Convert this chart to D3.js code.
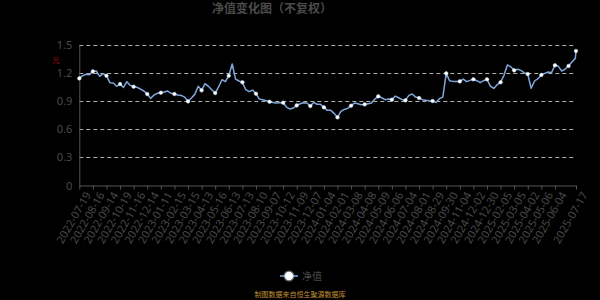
<!DOCTYPE html>
<html>
<head>
<meta charset="utf-8">
<script src="https://cdn.jsdelivr.net/npm/d3@7/dist/d3.min.js"></script>
<style>
  body { margin: 0; background: #000; }
  svg { display: block; font-family: "Noto Sans CJK SC", "Noto Sans", sans-serif; }
</style>
</head>
<body>
<svg id="chart" width="600" height="300"></svg>
<script>
// net value, one reading every 5 trading days (index 0,5,...,730), last item is the final day
const SAMPLE_STEP = 5
const LAST_INDEX = 731
const NAV = [
  1.146, 1.175, 1.189, 1.186, 1.221, 1.225, 1.168, 1.196, 1.175, 1.100,
  1.096, 1.061, 1.086, 1.050, 1.111, 1.071, 1.057, 1.050, 1.032, 1.011,
  0.979, 0.932, 0.968, 0.986, 0.993, 1.000, 1.011, 0.986, 0.979, 0.968,
  0.964, 0.946, 0.900, 0.936, 0.975, 1.061, 1.018, 1.089, 1.061, 1.025,
  0.989, 1.054, 1.132, 1.111, 1.175, 1.300, 1.139, 1.118, 1.104, 1.025,
  1.004, 1.021, 0.982, 0.925, 0.918, 0.907, 0.896, 0.889, 0.882, 0.886,
  0.886, 0.839, 0.818, 0.829, 0.857, 0.875, 0.886, 0.882, 0.850, 0.889,
  0.868, 0.868, 0.836, 0.804, 0.804, 0.772, 0.729, 0.793, 0.814, 0.825,
  0.854, 0.882, 0.875, 0.864, 0.868, 0.875, 0.882, 0.925, 0.954, 0.939,
  0.918, 0.925, 0.918, 0.957, 0.939, 0.918, 0.911, 0.964, 0.979, 0.946,
  0.936, 0.918, 0.911, 0.907, 0.904, 0.889, 0.929, 0.946, 1.200, 1.121,
  1.114, 1.114, 1.114, 1.139, 1.111, 1.125, 1.136, 1.121, 1.100, 1.121,
  1.136, 1.064, 1.039, 1.079, 1.104, 1.179, 1.290, 1.270, 1.232, 1.243,
  1.232, 1.204, 1.193, 1.040, 1.118, 1.143, 1.182, 1.200, 1.214, 1.207,
  1.286, 1.275, 1.225, 1.246, 1.279, 1.321, 1.360,
  1.439
]

const LABEL_STEP = 20
const TICK_LABELS = [
  "2022-07-19", "2022-08-16", "2022-09-14", "2022-10-19", "2022-11-16", "2022-12-14",
  "2023-01-11", "2023-02-15", "2023-03-15", "2023-04-13", "2023-05-16", "2023-06-13",
  "2023-07-13", "2023-08-10", "2023-09-07", "2023-10-12", "2023-11-09", "2023-12-07",
  "2024-01-04", "2024-02-01", "2024-03-08", "2024-04-08", "2024-05-09", "2024-06-06",
  "2024-07-04", "2024-08-01", "2024-08-29", "2024-09-30", "2024-11-04", "2024-12-02",
  "2024-12-30", "2025-02-05", "2025-03-05", "2025-04-02", "2025-05-06", "2025-06-04",
  "2025-07-17"
]
const Y_TICKS = [0, 0.3, 0.6, 0.9, 1.2, 1.5]

const TITLE = "净值变化图（不复权）"
const UNIT = "元"
const SERIES_NAME = "净值"
const SOURCE = "制图数据来自恒生聚源数据库"

const LINE_COLOR = "#7fa7da"
const TEXT_COLOR = "#4a4a4a"

const svg = d3.select("#chart")
const LEFT = 79.3, RIGHT = 576, TOP = 45.3, BOTTOM = 185.5

const points = NAV.map((v, i) => ({
  idx: i === NAV.length - 1 ? LAST_INDEX : i * SAMPLE_STEP,
  v: v
}))

const xs = d3.scaleLinear().domain([0, LAST_INDEX]).range([LEFT, RIGHT])
const ys = d3.scaleLinear().domain([0, 1.5]).range([BOTTOM, TOP])

svg.append("rect").attr("width", 600).attr("height", 300).attr("fill", "#000")

// title
svg.append("text")
  .text(TITLE)
  .attr("x", 212)
  .attr("y", 13)
  .style("font-size", "12px")
  .style("font-weight", "bold")
  .style("fill", TEXT_COLOR)

// unit
svg.append("text")
  .text(UNIT)
  .attr("x", 56)
  .attr("y", 63)
  .style("font-size", "7px")
  .style("text-anchor", "middle")
  .style("fill", "#a01010")

// grid lines
svg.append("g")
  .selectAll("line")
  .data(Y_TICKS.filter(d => d > 0))
  .enter()
  .append("line")
  .attr("x1", LEFT)
  .attr("x2", RIGHT)
  .attr("y1", d => Math.round(ys(d)) + 0.5)
  .attr("y2", d => Math.round(ys(d)) + 0.5)
  .style("stroke", "#b0b0b0")
  .style("stroke-dasharray", "4,3")
  .style("stroke-width", 1)

// y axis
let yAxis = svg.append("g")
  .attr("transform", `translate(${LEFT},0)`)
  .call(d3.axisLeft(ys).tickValues(Y_TICKS).tickSize(0).tickPadding(7)
    .tickFormat(d => d === 0 ? "0" : d.toFixed(1)))
yAxis.select(".domain").style("stroke", "#555")
yAxis.selectAll("text").style("fill", TEXT_COLOR).style("font-size", "11px")
  .style("font-family", "'Noto Sans', sans-serif")

// x axis
const tickIdx = TICK_LABELS.map((_, i) => i === TICK_LABELS.length - 1 ? LAST_INDEX : i * LABEL_STEP)
let xAxis = svg.append("g")
  .attr("transform", `translate(0,${BOTTOM})`)
  .call(d3.axisBottom(xs).tickValues(tickIdx).tickSize(4).tickSizeOuter(0)
    .tickFormat((d, i) => TICK_LABELS[i]))
xAxis.select(".domain").style("stroke", "#555")
xAxis.selectAll(".tick line").style("stroke", "#555")
xAxis.selectAll("text")
  .style("fill", TEXT_COLOR)
  .style("font-size", "11px")
  .style("font-family", "'Noto Sans', sans-serif")
  .style("text-anchor", "end")
  .attr("dx", "-0.2em")
  .attr("dy", "0.7em")
  .attr("transform", "rotate(-60)")

// the line
const line = d3.line().x(d => xs(d.idx)).y(d => ys(d.v))
svg.append("path")
  .datum(points)
  .attr("d", line)
  .style("fill", "none")
  .style("stroke", LINE_COLOR)
  .style("stroke-width", 1.5)
  .style("stroke-linejoin", "round")

// symbols on labelled days
svg.append("g")
  .selectAll("circle")
  .data(points.filter(d => d.idx % LABEL_STEP === 0 || d.idx === LAST_INDEX))
  .enter()
  .append("circle")
  .attr("cx", d => xs(d.idx))
  .attr("cy", d => ys(d.v))
  .attr("r", 1.8)
  .style("fill", "#fff")
  .style("stroke", "#cfe0f5")
  .style("stroke-width", 0.5)

// legend
const lg = svg.append("g").attr("transform", "translate(289,276)")
lg.append("line").attr("x1", -9).attr("x2", 9).style("stroke", LINE_COLOR).style("stroke-width", 1.5)
lg.append("circle").attr("r", 5.5).style("fill", "#9fc3ee").style("opacity", 0.5)
lg.append("circle").attr("r", 4.2).style("fill", "#fff")
lg.append("text")
  .text(SERIES_NAME)
  .attr("x", 13)
  .attr("y", 4)
  .style("font-size", "10px")
  .style("fill", TEXT_COLOR)

// source
svg.append("text")
  .text(SOURCE)
  .attr("x", 300)
  .attr("y", 297)
  .style("font-size", "7px")
  .style("text-anchor", "middle")
  .style("fill", "#c09030")
</script>
</body>
</html>
